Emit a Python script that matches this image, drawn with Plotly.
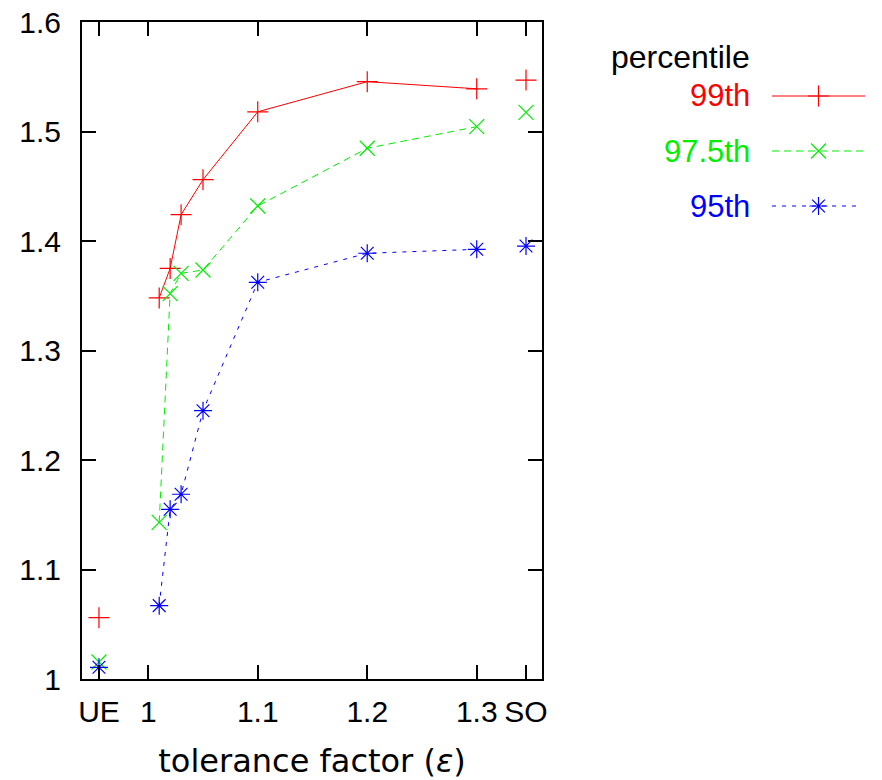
import plotly.graph_objects as go

# x positions: UE and SO are placed just outside the numeric range
x_pos = [0.955, 1.01, 1.02, 1.03, 1.05, 1.1, 1.2, 1.3, 1.345]
x_tickvals = [0.955, 1.0, 1.1, 1.2, 1.3, 1.345]
x_ticktext = ["UE", "1", "1.1", "1.2", "1.3", "SO"]
y_tickvals = [1.0, 1.1, 1.2, 1.3, 1.4, 1.5, 1.6]
y_ticktext = ["1", "1.1", "1.2", "1.3", "1.4", "1.5", "1.6"]

p99 = [1.056, 1.348, 1.375, 1.424, 1.456, 1.518, 1.5455, 1.539, 1.547]
p975 = [1.0155, 1.143, 1.352, 1.3705, 1.3735, 1.432, 1.4847, 1.5044, 1.5175]
p95 = [1.0107, 1.067, 1.155, 1.1687, 1.245, 1.3623, 1.3888, 1.3924, 1.3954]

series = [
    ("99th", p99, "#ff0000", "solid", "cross-thin"),
    ("97.5th", p975, "#00ee00", "7px,5px", "x-thin"),
    ("95th", p95, "#0000ff", "4px,6px", "asterisk-open"),
]

OFF = 8  # page body margin
W, H = 882 - OFF, 780 - OFF


def px(x):
    return (x - OFF) / W


def py(y):
    return (H - (y - OFF)) / H


L, R, T, B = 82, 542, 22, 679

fig = go.Figure()
for name, vals, col, dash, sym in series:
    # connected points between 1.01 and 1.3
    fig.add_trace(go.Scatter(
        x=x_pos[1:-1], y=vals[1:-1], mode="lines+markers",
        line=dict(color=col, width=1, dash=dash),
        marker=dict(symbol=sym, size=15, line=dict(color=col, width=1.2), color=col),
        showlegend=False, xaxis="x", yaxis="y"))
    # UE and SO points (markers only)
    fig.add_trace(go.Scatter(
        x=[x_pos[0], x_pos[-1]], y=[vals[0], vals[-1]], mode="markers",
        marker=dict(symbol=sym, size=15, line=dict(color=col, width=1.2), color=col),
        showlegend=False, xaxis="x", yaxis="y"))

# legend samples on a hidden helper axis
for i, (name, vals, col, dash, sym) in enumerate(series):
    yrow = 2.5 - i
    xend = 1.0 if i < 2 else 0.92
    fig.add_trace(go.Scatter(
        x=[0, xend], y=[yrow, yrow], mode="lines",
        line=dict(color=col, width=1, dash=dash),
        showlegend=False, xaxis="x2", yaxis="y2", hoverinfo="skip"))
    fig.add_trace(go.Scatter(
        x=[0.5], y=[yrow], mode="markers",
        marker=dict(symbol=sym, size=15, line=dict(color=col, width=1.2), color=col),
        showlegend=False, xaxis="x2", yaxis="y2", hoverinfo="skip"))
    fig.add_annotation(
        x=px(752), y=py(96 + 55 * i), xref="paper", yref="paper",
        text=name, showarrow=False, xanchor="right", yanchor="middle",
        font=dict(family="Liberation Sans, Arial", size=31, color=col))

fig.add_annotation(
    x=px(752), y=py(57), xref="paper", yref="paper",
    text="percentile", showarrow=False, xanchor="right", yanchor="middle",
    font=dict(family="Liberation Sans, Arial", size=32, color="black"))

axis_common = dict(
    showgrid=False, zeroline=False, showline=True, linecolor="black",
    linewidth=2, mirror="ticks", ticks="inside", ticklen=14, tickwidth=2,
    tickcolor="black", automargin=False, ticklabeloverflow="allow",
    tickfont=dict(family="Liberation Sans, Arial", size=30, color="black"),
)

fig.update_layout(
    width=W, height=H,
    margin=dict(l=0, r=0, t=0, b=0, autoexpand=False),
    paper_bgcolor="white", plot_bgcolor="white",
    xaxis=dict(
        domain=[px(L), px(R)], range=[0.9395, 1.3596],
        tickmode="array", tickvals=x_tickvals, ticktext=x_ticktext,
        ticklabelstandoff=5,
        title=dict(text="tolerance factor (<i>ε</i>)", standoff=23,
                   font=dict(family="DejaVu Sans", size=32, color="black")),
        **axis_common),
    yaxis=dict(
        domain=[py(B), py(T)], range=[1.0, 1.6],
        tickmode="array", tickvals=y_tickvals, ticktext=y_ticktext,
        ticklabelstandoff=13,
        **axis_common),
    xaxis2=dict(domain=[px(772), px(865)], range=[0, 1], visible=False,
                anchor="y2", automargin=False),
    yaxis2=dict(domain=[py(233.5), py(68.5)], range=[0, 3],
                visible=False, anchor="x2", automargin=False),
)

fig.write_html("out.html")
